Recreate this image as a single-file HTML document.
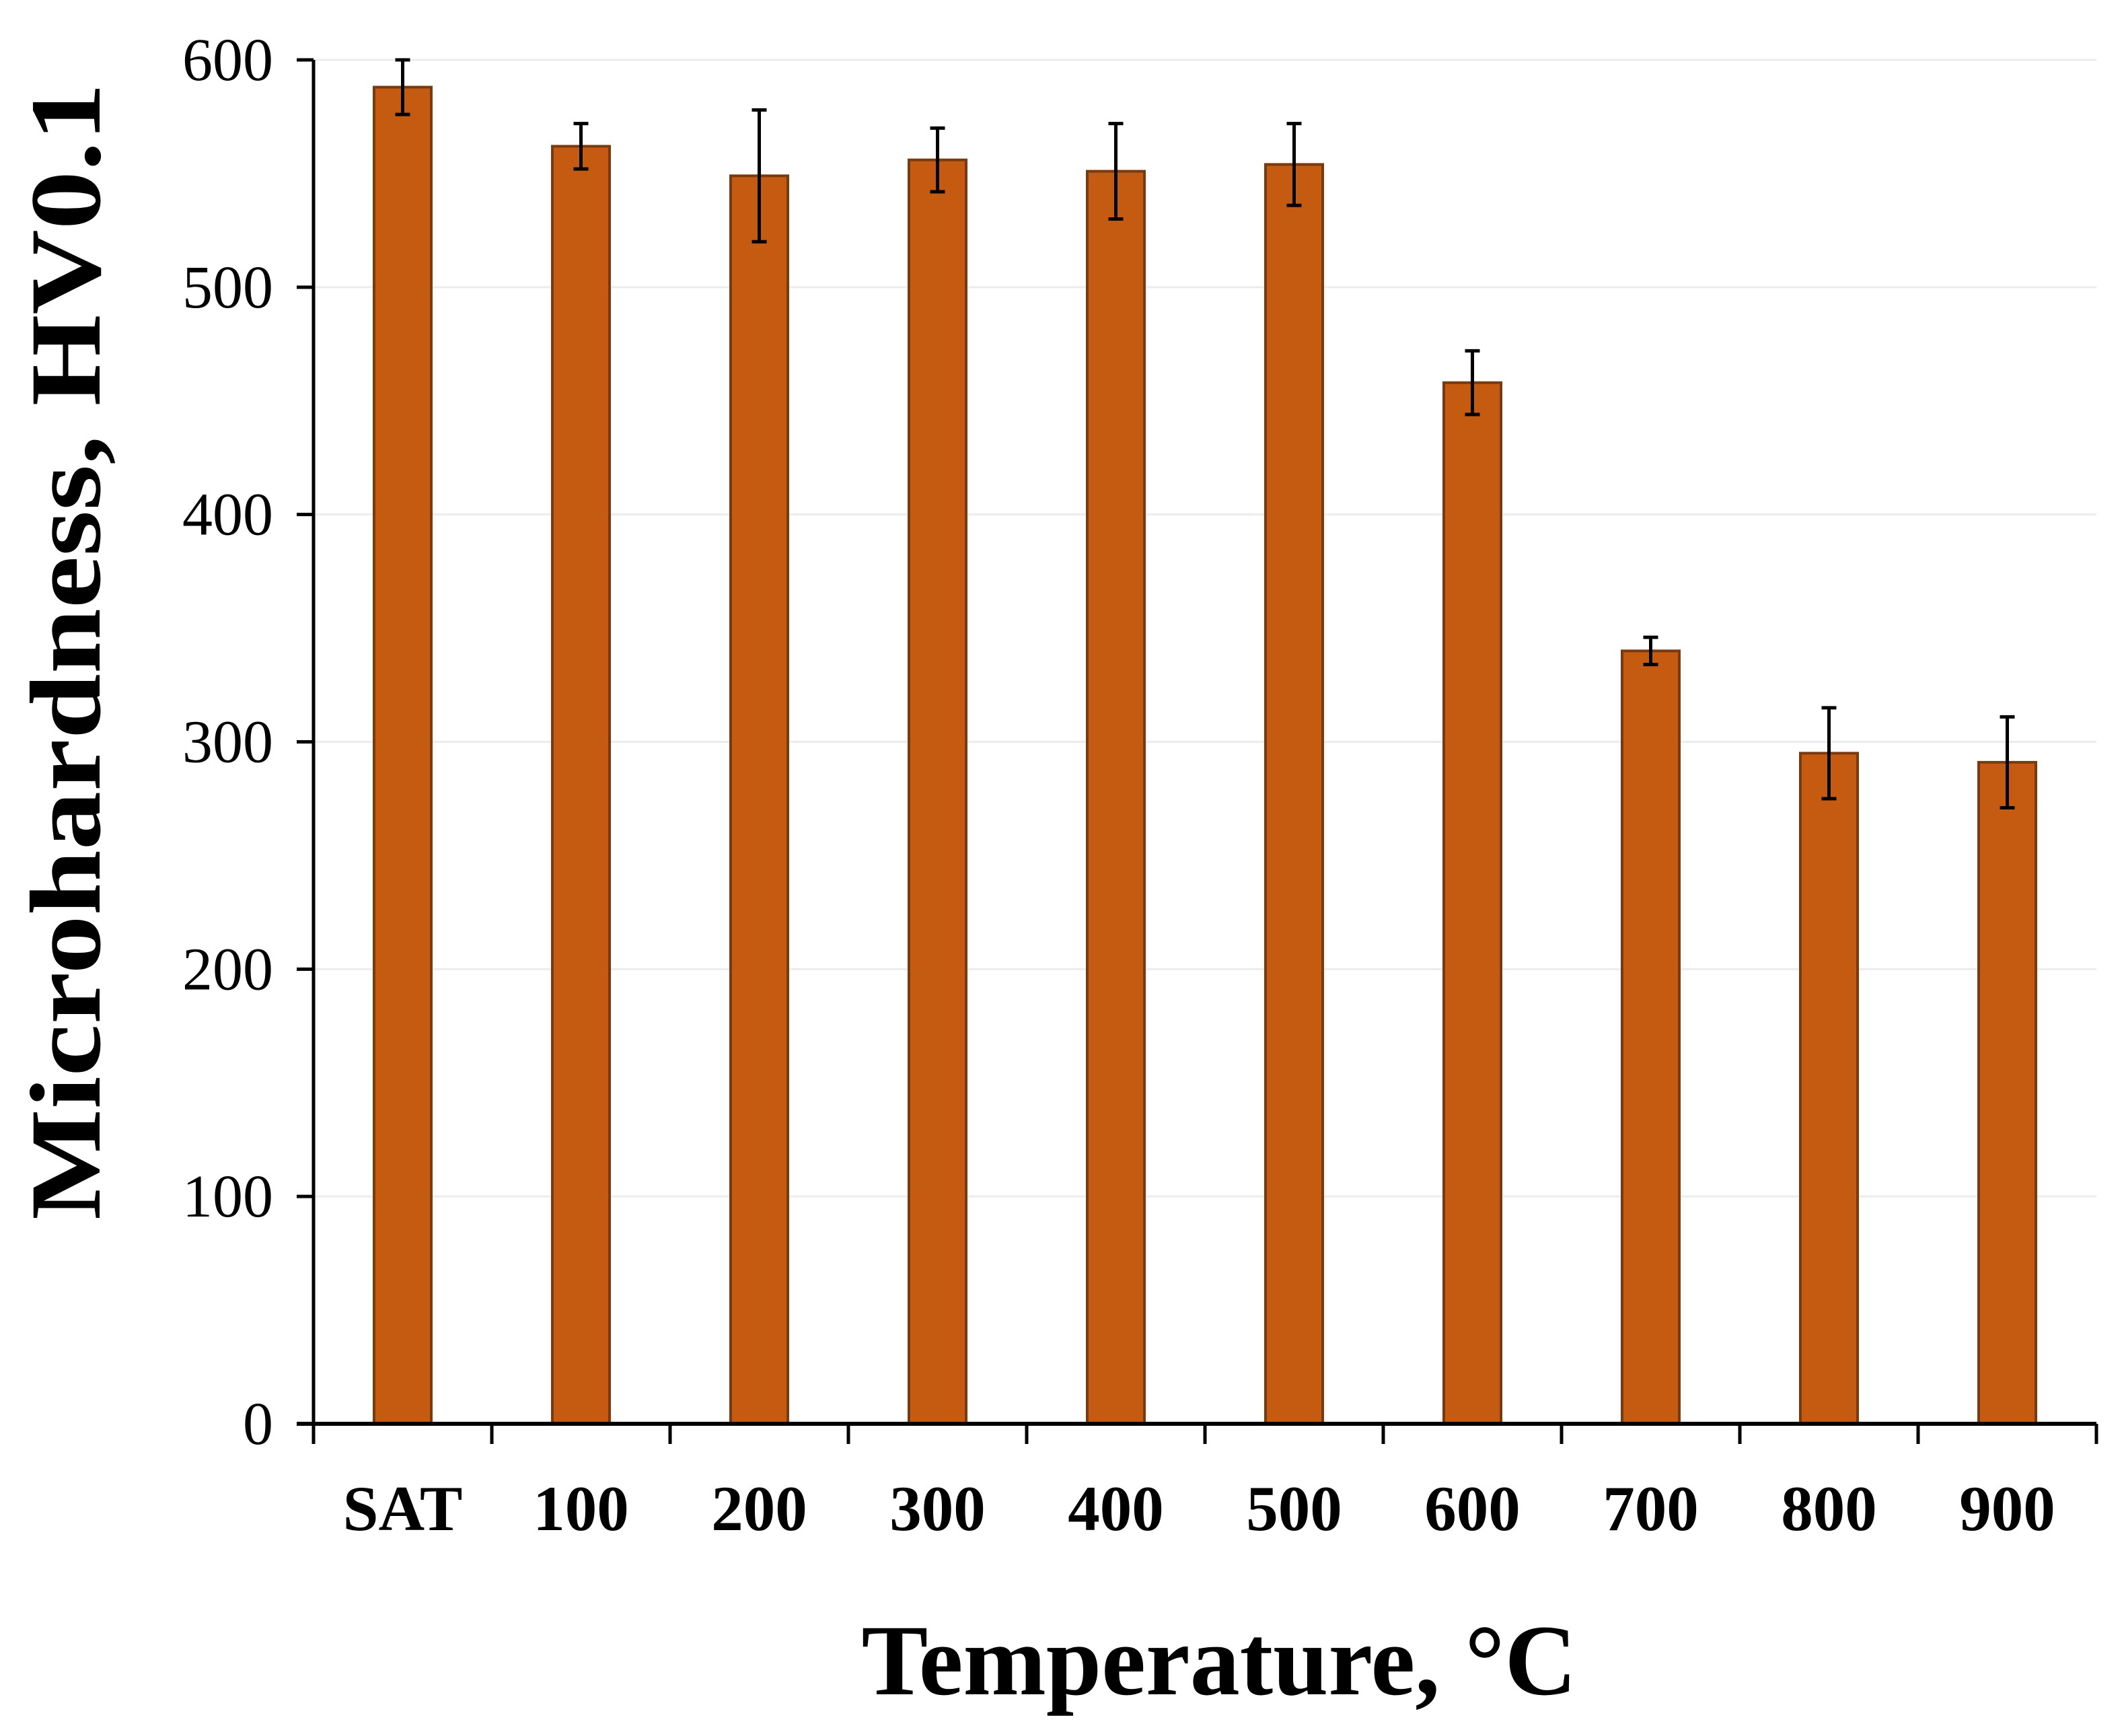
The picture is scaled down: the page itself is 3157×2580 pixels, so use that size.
<!DOCTYPE html>
<html><head><meta charset="utf-8"><style>
html,body{margin:0;padding:0;background:#fff;}
svg{display:block;}
text{font-family:"Liberation Serif",serif;fill:#000;}
</style></head><body>
<svg id="chart" width="3157" height="2580" viewBox="0 0 3157 2580" xmlns="http://www.w3.org/2000/svg">
<g id="grid"></g>
<g id="bars"></g>
<g id="axes"></g>
<text x="0" y="0" transform="translate(148,968) rotate(-90)" text-anchor="middle" font-weight="bold" font-size="150" textLength="1690" lengthAdjust="spacingAndGlyphs">Microhardness, HV0.1</text>
<text x="1812" y="2518" text-anchor="middle" font-weight="bold" font-size="150" textLength="1063" lengthAdjust="spacingAndGlyphs">Temperature, °C</text>
</svg>
<script>
const categories = ["SAT","100","200","300","400","500","600","700","800","900"];
const values = [588,562,549,556,551,554,458,340,295,291];
const errors = [12,10,29,14,21,18,14,6,20,20];
const yTicks = [0,100,200,300,400,500,600];

const NS = "http://www.w3.org/2000/svg";
const x0 = 466, x1 = 3116, y0 = 2116, yTop = 89, yMax = 600;
const bw = (x1 - x0) / categories.length;
const barW = 85;
function yScale(v){ return y0 - (v / yMax) * (y0 - yTop); }
function xCenter(i){ return x0 + bw * (i + 0.5); }
function mk(tag, attrs, parent){
  const e = document.createElementNS(NS, tag);
  for (const k in attrs) e.setAttribute(k, attrs[k]);
  parent.appendChild(e);
  return e;
}
const grid = document.getElementById('grid');
const bars = document.getElementById('bars');
const axes = document.getElementById('axes');

yTicks.forEach(t => {
  const y = yScale(t);
  if (t > 0) {
    const g = mk('line', {x1:x0, x2:x1, y1:y, y2:y, stroke:'#ececec', 'stroke-width':3}, grid);
    
    
  }
  const tk = mk('line', {x1:x0-25, x2:x0, y1:y, y2:y, stroke:'#000', 'stroke-width':5}, axes);
  
  
  const lb = mk('text', {x:x0-60, y:y+30, 'text-anchor':'end', 'font-size':90}, axes);
  lb.textContent = t;
  
  
});

categories.forEach((c, i) => {
  const cx = xCenter(i);
  const top = yScale(values[i]);
  const r = mk('rect', {x:cx-barW/2, y:top, width:barW, height:y0-top, fill:'#C55A11', stroke:'#7a3a10', 'stroke-width':4}, bars);
  
  
  const yh = yScale(values[i] + errors[i]), yl = yScale(values[i] - errors[i]);
  const eb = mk('path', {d:`M${cx},${yh}V${yl}M${cx-11},${yh}H${cx+11}M${cx-11},${yl}H${cx+11}`, stroke:'#000', 'stroke-width':5, fill:'none'}, bars);
  
  
  const lb = mk('text', {x:cx, y:2274, 'text-anchor':'middle', 'font-size':95, 'font-weight':'bold'}, axes);
  lb.textContent = c;
  
  
});
for (let i = 0; i <= categories.length; i++) {
  const x = x0 + bw * i;
  const tk = mk('line', {x1:x, x2:x, y1:y0, y2:y0+30, stroke:'#000', 'stroke-width':5}, axes);
  
  
}
const ya = mk('line', {x1:x0, x2:x0, y1:yTop, y2:y0+30, stroke:'#000', 'stroke-width':5}, axes);


const xa = mk('line', {x1:x0-25, x2:x1, y1:y0, y2:y0, stroke:'#000', 'stroke-width':6}, axes);


</script>
</body></html>
